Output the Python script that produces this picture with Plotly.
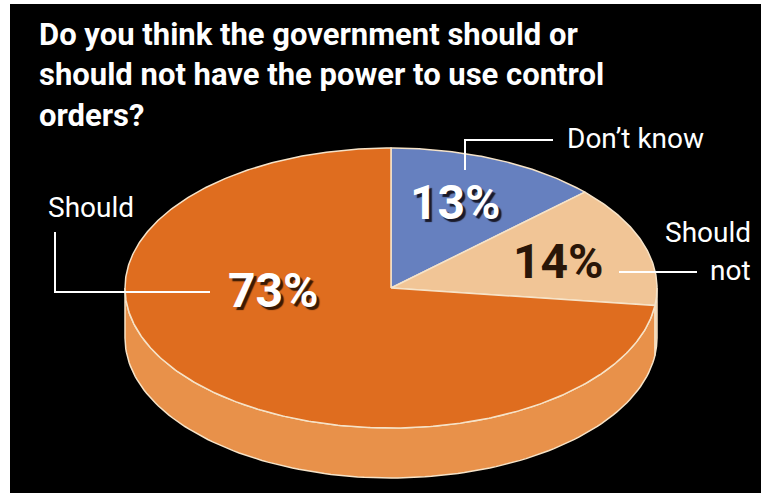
import numpy as np
import plotly.graph_objects as go

# ---- data ----
categories = ["Don\u2019t know", "Should not", "Should"]
values = [13, 14, 73]
pct_labels = ["13%", "14%", "73%"]

top_colors = ["#6680BF", "#F1C596", "#DF6D1F"]
side_colors = ["#4E66A6", "#E9B27C", "#E8914A"]

# ---- geometry (pixel-like data space) ----
W, H = 761, 493
cx, cy = 391, 288
rx, ry = 266, 140
depth = 50

def ell(theta_deg, dy=0.0):
    t = np.radians(theta_deg)
    return cx + rx * np.sin(t), cy - ry * np.cos(t) + dy

fig = go.Figure()

total = float(sum(values))
bounds = np.concatenate([[0.0], np.cumsum(values) / total * 360.0])

# sides (front half: 90..270 deg)
for i, cat in enumerate(categories):
    a, b = bounds[i], bounds[i + 1]
    lo, hi = max(a, 90.0), min(b, 270.0)
    if hi <= lo:
        continue
    th = np.linspace(lo, hi, 120)
    xt, yt = ell(th)
    xb, yb = ell(th[::-1], depth)
    xs = np.concatenate([xt, xb, [xt[0]]])
    ys = np.concatenate([yt, yb, [yt[0]]])
    fig.add_trace(go.Scatter(x=xs, y=ys, mode="lines", fill="toself",
                             fillcolor=side_colors[i],
                             line=dict(color="#F6E3C8", width=1.5),
                             hoverinfo="skip", showlegend=False))

# tops
for i, cat in enumerate(categories):
    a, b = bounds[i], bounds[i + 1]
    th = np.linspace(a, b, max(20, int((b - a) * 2)))
    xe, ye = ell(th)
    xs = np.concatenate([[cx], xe, [cx]])
    ys = np.concatenate([[cy], ye, [cy]])
    fig.add_trace(go.Scatter(x=xs, y=ys, mode="lines", fill="toself",
                             fillcolor=top_colors[i],
                             line=dict(color="#F6E3C8", width=1.5),
                             name=cat, hoverinfo="name", showlegend=False))

FONT = "Roboto, Liberation Sans, sans-serif"

annotations = [
    dict(x=37, y=14, xanchor="left", yanchor="top", align="left",
         text="<b>Do you think the government should or<br>should not have the power to use control<br>orders?</b>",
         font=dict(family=FONT, size=31, color="white")),
    dict(x=565, y=138, xanchor="left", yanchor="middle", text=categories[0],
         font=dict(family=FONT, size=28, color="white")),
    dict(x=753, y=232, xanchor="right", yanchor="middle", text="Should",
         font=dict(family=FONT, size=28, color="white")),
    dict(x=753, y=270, xanchor="right", yanchor="middle", text="not",
         font=dict(family=FONT, size=28, color="white")),
    dict(x=46, y=207, xanchor="left", yanchor="middle", text=categories[2],
         font=dict(family=FONT, size=28, color="white")),
    dict(x=455, y=202, text="<b>" + pct_labels[0] + "</b>", showarrow=False,
         font=dict(family=FONT, size=48, color="white", shadow="3px 3px 1px #1a1a2a")),
    dict(x=558, y=261, text="<b>" + pct_labels[1] + "</b>", showarrow=False,
         font=dict(family=FONT, size=48, color="#2A1608")),
    dict(x=273, y=290, text="<b>" + pct_labels[2] + "</b>", showarrow=False,
         font=dict(family=FONT, size=48, color="white", shadow="3px 3px 1px #3A1A05")),
]
for an in annotations:
    an.setdefault("showarrow", False)
    an["xref"] = "x"
    an["yref"] = "y"

line = dict(color="white", width=2)
shapes = [
    dict(type="path", path="M 55 232 L 55 292 L 210 292", line=line),
    dict(type="path", path="M 465 170 L 465 140 L 553 140", line=line),
    dict(type="line", x0=619, y0=272, x1=697, y1=272, line=line),
]
for s in shapes:
    s["xref"] = "x"
    s["yref"] = "y"
# white frame at left and top of the picture
shapes += [
    dict(type="rect", xref="paper", yref="paper", x0=0, x1=10 / W, y0=0, y1=1,
         fillcolor="white", line=dict(width=0), layer="below"),
    dict(type="rect", xref="paper", yref="paper", x0=0, x1=1, y0=1 - 4 / H, y1=1,
         fillcolor="white", line=dict(width=0), layer="below"),
]

fig.update_layout(
    width=W, height=H,
    margin=dict(l=0, r=0, t=0, b=0),
    paper_bgcolor="black",
    plot_bgcolor="black",
    xaxis=dict(range=[0, W], visible=False, fixedrange=True),
    yaxis=dict(range=[H, 0], visible=False, fixedrange=True),
    annotations=annotations,
    shapes=shapes,
    showlegend=False,
)

fig.write_html(
    "out.html",
    config={"displayModeBar": False},
    post_script="document.body.style.margin='0px';document.body.style.overflow='hidden';document.body.style.background='black';",
)
